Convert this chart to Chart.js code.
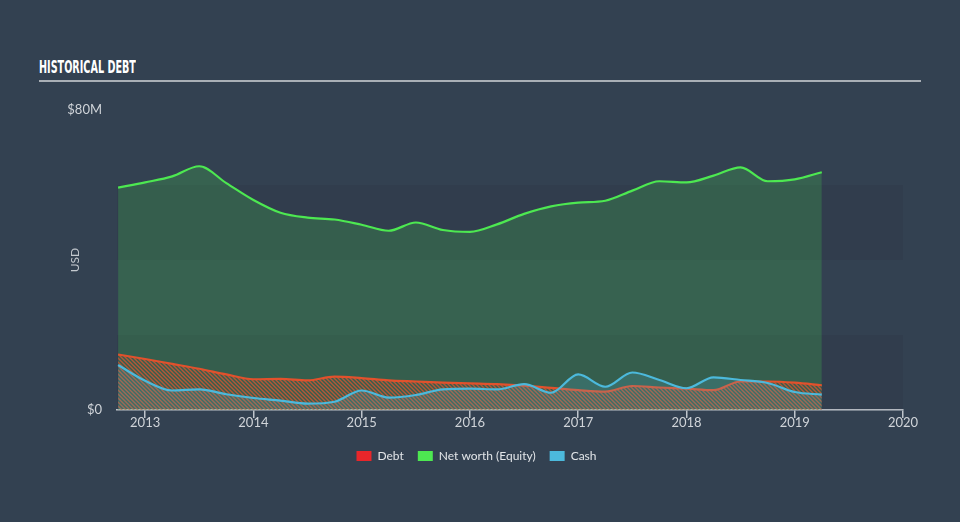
<!DOCTYPE html>
<html>
<head>
<meta charset="utf-8">
<script src="https://cdn.jsdelivr.net/npm/chart.js@4"></script>
<style>
  html, body { margin: 0; padding: 0; background: #334151; }
  #wrap { position: relative; width: 960px; height: 522px; overflow: hidden; }
  #title {
    position: absolute; left: 39px; top: 56px;
    font-family: "DejaVu Sans Condensed", "DejaVu Sans", sans-serif;
    font-weight: bold; font-size: 18px; color: #ffffff;
    transform-origin: left top; white-space: nowrap;
  }
  #rule { position: absolute; left: 39px; top: 80px; width: 882px; height: 2px; background: #a9afb6; }
  canvas { position: absolute; left: 0; top: 0; }
</style>
</head>
<body>
<div id="wrap">
  <div id="title">HISTORICAL DEBT</div>
  <div id="rule"></div>
  <canvas id="chart" width="960" height="522"></canvas>
</div>
<script>
// quarterly dates (decimal years), values in $M
const dates = [2012.75, 2013.0, 2013.25, 2013.5, 2013.75, 2014.0, 2014.25, 2014.5, 2014.75,
  2015.0, 2015.25, 2015.5, 2015.75, 2016.0, 2016.25, 2016.5, 2016.75,
  2017.0, 2017.25, 2017.5, 2017.75, 2018.0, 2018.25, 2018.5, 2018.75, 2019.0, 2019.25]
const debt = [14.8, 13.6, 12.3, 11.0, 9.5, 8.2, 8.3, 7.9, 8.9,
  8.5, 7.9, 7.6, 7.3, 7.1, 6.9, 6.5, 5.9,
  5.3, 4.9, 6.4, 6.0, 5.7, 5.3, 7.6, 7.6, 7.3, 6.6]
const equity = [59.3, 60.7, 62.3, 65.0, 60.5, 56.0, 52.6, 51.3, 50.8,
  49.4, 47.8, 50.0, 48.0, 47.5, 49.5, 52.3, 54.3,
  55.3, 55.8, 58.5, 61.0, 60.7, 62.5, 64.7, 61.0, 61.5, 63.4]
const cash = [12.0, 7.8, 5.2, 5.5, 4.2, 3.2, 2.5, 1.7, 2.2,
  5.2, 3.3, 4.0, 5.5, 5.7, 5.5, 6.9, 4.6,
  9.5, 6.2, 10.0, 8.0, 5.8, 8.7, 8.0, 7.2, 4.8, 4.1]
const yearTicks = [2013, 2014, 2015, 2016, 2017, 2018, 2019, 2020]
const yTicks = [0, 20, 40, 60, 80]

// fit the condensed title to its width
const title = document.getElementById("title")
title.style.transform = "scaleX(" + (97 / title.offsetWidth) + ")"

function stripes(color) {
  const c = document.createElement("canvas")
  c.width = 4; c.height = 4
  const g = c.getContext("2d")
  g.strokeStyle = color
  g.lineWidth = 1.4
  g.beginPath()
  g.moveTo(-1, -1); g.lineTo(5, 5)
  g.moveTo(-1, 3); g.lineTo(1, 5)
  g.moveTo(3, -1); g.lineTo(5, 1)
  g.stroke()
  return g.createPattern(c, "repeat")
}

const toPoints = arr => arr.map((v, i) => ({ x: dates[i], y: v }))

// subtle darker horizontal bands behind the data
const bands = {
  id: "bands",
  beforeDatasetsDraw(chart) {
    const { ctx, chartArea, scales } = chart
    ctx.save()
    ctx.fillStyle = "rgba(20, 28, 40, 0.08)"
    for (const [a, b] of [[0, 20], [40, 60]]) {
      const top = scales.y.getPixelForValue(b)
      const bottom = scales.y.getPixelForValue(a)
      ctx.fillRect(chartArea.left, top, chartArea.right - chartArea.left, bottom - top)
    }
    ctx.restore()
  }
}

const legendColors = ["#e8262a", "#4de851", "#4cb9dc"]

new Chart(document.getElementById("chart").getContext("2d"), {
  type: "line",
  data: {
    datasets: [
      {
        label: "Debt",
        data: toPoints(debt),
        borderColor: "#e2512c",
        backgroundColor: stripes("rgba(226, 85, 48, 0.75)"),
        fill: "origin",
        order: 1
      },
      {
        label: "Net worth (Equity)",
        data: toPoints(equity),
        borderColor: "#4de851",
        backgroundColor: "rgba(77, 232, 81, 0.2)",
        fill: "origin",
        order: 2
      },
      {
        label: "Cash",
        data: toPoints(cash),
        borderColor: "#4cb9dc",
        backgroundColor: "rgba(76, 185, 220, 0.18)",
        fill: "origin",
        order: 0
      }
    ]
  },
  options: {
    responsive: false,
    devicePixelRatio: 1,
    animation: false,
    layout: { padding: { top: 110, left: 0, right: 7, bottom: 50 } },
    elements: {
      line: { borderWidth: 2.2, cubicInterpolationMode: "monotone" },
      point: { radius: 0 }
    },
    plugins: {
      tooltip: { enabled: false },
      legend: {
        position: "bottom",
        labels: {
          color: "#e2e5e8",
          font: { family: "Lato", size: 12 },
          boxWidth: 15,
          boxHeight: 10,
          padding: 14,
          generateLabels(chart) {
            return chart.data.datasets.map((ds, i) => ({
              text: ds.label,
              fillStyle: legendColors[i],
              strokeStyle: legendColors[i],
              lineWidth: 0,
              fontColor: "#e2e5e8",
              datasetIndex: i
            }))
          }
        }
      }
    },
    scales: {
      x: {
        type: "linear",
        min: 2012.74,
        max: 2020,
        afterBuildTicks: s => { s.ticks = yearTicks.map(v => ({ value: v })) },
        afterFit: s => { s.height = 26 },
        border: { color: "#bfc5cc", width: 1.5 },
        grid: { drawOnChartArea: false, color: "#bfc5cc", tickLength: 8, lineWidth: 1.5 },
        ticks: {
          color: "#d0d4d9",
          font: { family: "Lato", size: 13 },
          padding: -3,
          maxRotation: 0,
          callback: v => String(v)
        }
      },
      y: {
        min: 0,
        max: 80,
        afterBuildTicks: s => { s.ticks = yTicks.map(v => ({ value: v })) },
        afterFit: s => { s.width = 117 },
        border: { display: false },
        grid: { display: false, drawTicks: false },
        ticks: {
          color: "#d0d4d9",
          font: { family: "Lato", size: 13 },
          padding: 15,
          callback: v => (v === 0 ? "$0" : v === 80 ? "$80M" : "")
        },
        title: {
          display: true,
          text: "USD",
          color: "#c4c9cf",
          font: { family: "Lato", size: 12 },
          padding: { top: 68, bottom: 0 }
        }
      },
      // empty spacer on the right so the legend stays centred on the page
      spacer: {
        type: "linear",
        position: "right",
        afterFit: s => { s.width = 50 },
        border: { display: false },
        grid: { display: false, drawTicks: false },
        ticks: { display: false }
      }
    }
  },
  plugins: [bands]
})
</script>
</body>
</html>
